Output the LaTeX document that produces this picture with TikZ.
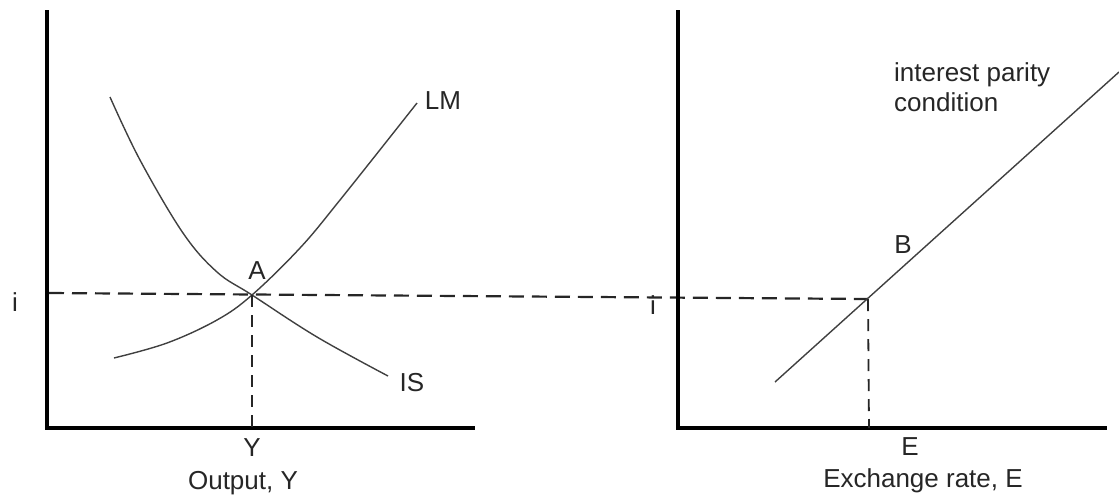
\documentclass[tikz,border=0pt]{standalone}
\usepackage{fontspec}
\setmainfont{Liberation Sans}
\begin{document}
\begin{tikzpicture}[x=1pt,y=-1pt,
  axis/.style={line width=4pt,black},
  curve/.style={line width=1.4pt,black!75},
  guide/.style={line width=2.2pt,black!85,dash pattern=on 15pt off 8pt},
  vguide/.style={line width=1.8pt,black!85,dash pattern=on 12pt off 8pt},
  lbl/.style={font=\fontsize{26}{30}\selectfont,text=black!85,inner sep=0pt}]
\useasboundingbox (0,0) rectangle (1119,499);
% left panel
\coordinate (L0) at (47,428);
\coordinate (Ltop) at (47,10);
\coordinate (Lend) at (475,428);
\draw[axis] (Ltop) -- (L0) -- (Lend);
\coordinate (A) at (252,295);
\coordinate (Ybase) at (252,428);
\coordinate (Istart) at (49,293);
\coordinate (Bdash) at (868,299);
\draw[curve] plot[smooth,tension=0.6] coordinates {(114,358) (167,343) (217,320) (252,295) (300,248) (340,200) (417,103)};
\draw[curve] plot[smooth,tension=0.6] coordinates {(110,97) (140,160) (183,233) (217,272) (252,295) (317,337) (388,376)};
\draw[guide] (Istart) -- (Bdash);
\draw[vguide] (A) -- (Ybase);
\node[lbl] (lm) at (443,101) {LM};
\node[lbl] (is) at (412,383) {IS};
\node[lbl] (a) at (257,271) {A};
\node[lbl] (il) at (15,302) {i};
\node[lbl] (y) at (252,448) {Y};
\node[lbl] (xl) at (243,483) {Output, Y};
% right panel
\coordinate (R0) at (678,428);
\coordinate (Rtop) at (678,10);
\coordinate (Rend) at (1107,428);
\draw[axis] (Rtop) -- (R0) -- (Rend);
\coordinate (P1) at (775,382);
\coordinate (P2) at (1119,72);
\draw[curve] (P1) -- (P2);
\coordinate (Ebase) at (869,428);
\draw[vguide] (Bdash) -- (Ebase);
\node[lbl] (ir) at (653,305) {i};
\node[lbl] (b) at (903,245) {B};
\node[lbl,anchor=west,align=left] (ipc) at (894,87) {interest parity\\condition};
\node[lbl] (e) at (910,447) {E};
\node[lbl] (xr) at (923,481) {Exchange rate, E};
\end{tikzpicture}
\end{document}
